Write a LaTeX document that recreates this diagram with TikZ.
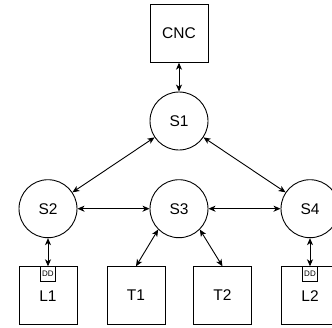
\documentclass[tikz,border=0pt]{standalone}
\usepackage{fontspec}
\setmainfont{Liberation Sans}
\usetikzlibrary{arrows.meta}
\begin{document}
\begin{tikzpicture}[x=1pt,y=1pt,
  every node/.style={font=\fontsize{15.5}{18}\selectfont, inner sep=0pt},
  box/.style={draw, line width=0.9pt, minimum width=58pt, minimum height=57.5pt},
  circ/.style={draw, circle, line width=0.9pt, minimum size=58pt},
  ddbox/.style={draw, line width=0.7pt, minimum size=15pt, font=\fontsize{8}{9}\selectfont},
  link/.style={line width=0.9pt, {Stealth[length=7pt,width=6pt,inset=2pt]}-{Stealth[length=7pt,width=6pt,inset=2pt]}}
]
\useasboundingbox (0,0) rectangle (332,-327);
\node[box] (cnc) at (179,-33.5) {CNC};
\node[circ] (s1) at (179,-121) {S1};
\node[circ] (s2) at (48,-208.7) {S2};
\node[circ] (s3) at (179,-208.7) {S3};
\node[circ] (s4) at (310,-208.7) {S4};
\node[box] (l1) at (48,-295.5) {};
\node[box] (t1) at (136,-295.5) {T1};
\node[box] (t2) at (222.5,-295.5) {T2};
\node[box] (l2) at (310,-295.5) {};
\node[ddbox, anchor=north] (dd1) at (l1.north) {DD};
\node[ddbox, anchor=north] (dd2) at (l2.north) {DD};
\node (l1t) at (48,-296.5) {L1};
\node (l2t) at (310,-296.5) {L2};
\draw[link] (cnc) -- (s1);
\draw[link] (s1) -- (s2);
\draw[link] (s1) -- (s4);
\draw[link] (s2) -- (s3);
\draw[link] (s3) -- (s4);
\draw[link] (s3.south west) -- (t1.north);
\draw[link] (s3.south east) -- (t2.north);
\draw[link] (s2.south) -- (dd1.north);
\draw[link] (s4.south) -- (dd2.north);
\end{tikzpicture}
\end{document}
